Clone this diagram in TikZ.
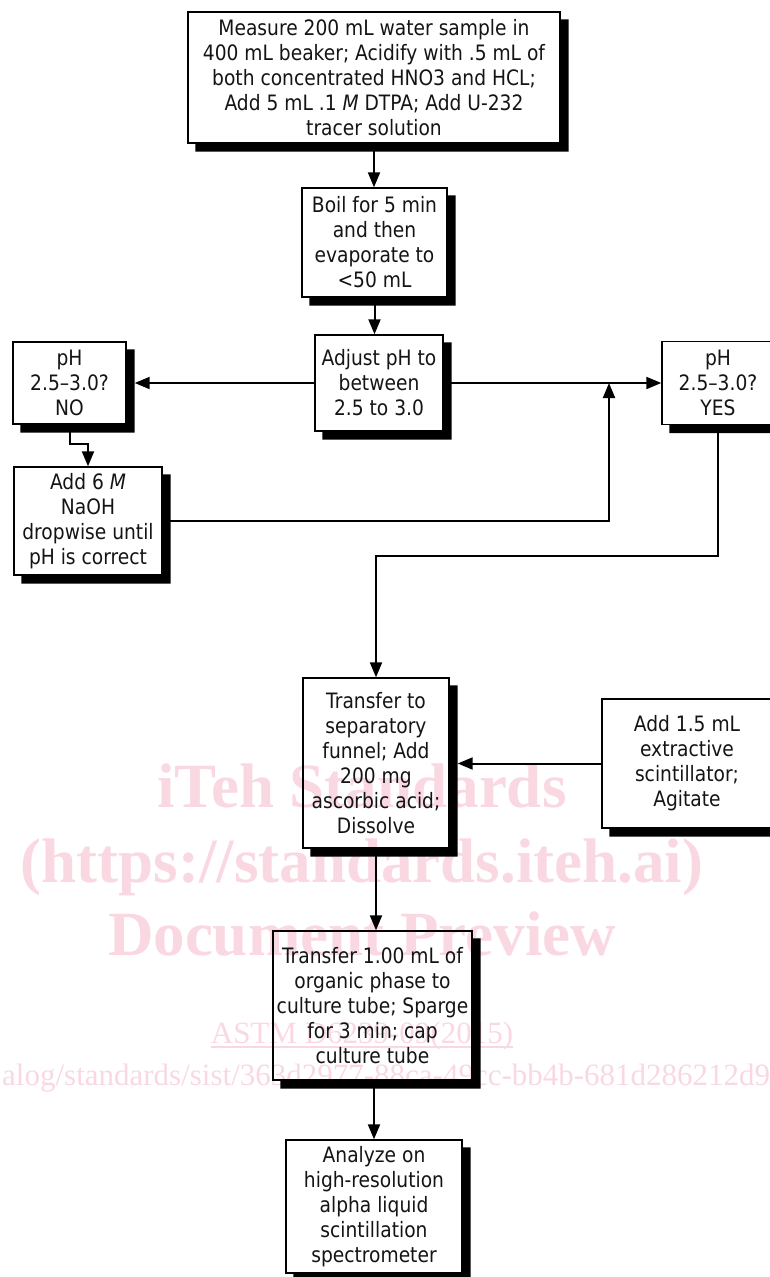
\documentclass[tikz,border=0pt]{standalone}
\usepackage{fontspec}
\setmainfont{DejaVu Sans}[FakeStretch=0.88]
\newfontfamily\wmfont{Liberation Serif}
\usetikzlibrary{arrows.meta,calc}
\definecolor{wmpink}{RGB}{249,216,226}
\begin{document}
\begin{tikzpicture}[x=1pt,y=-1pt,
  box/.style={draw=black, line width=1.4pt, inner sep=0pt, align=center,
    font=\fontsize{21.2}{25}\selectfont, text=black!92},
  conn/.style={line width=2pt, -{Triangle[length=15pt,width=12pt]}},
  wm/.style={text=wmpink, inner sep=0pt},
  wmbig/.style={wm, font=\wmfont\bfseries\fontsize{63}{63}\selectfont, anchor=base},
  wmsmall/.style={wm, font=\wmfont\fontsize{31}{31}\selectfont}]
\useasboundingbox (0,0) rectangle (770,1277);

% watermark (drawn first, under everything)
\node[wmbig] (wm1) at (362,807) {iTeh Standards};
\node[wmbig] (wm2) at (362,882) {(https://standards.iteh.ai)};
\node[wmbig] (wm3) at (362,955) {Document Preview};
\node[wmsmall, anchor=base] (astm) at (362,1043) {ASTM D6239-09(2015)};
\draw[wmpink, line width=1.2pt] ([yshift=-4pt]astm.base west) -- ([yshift=-4pt]astm.base east);
\node[wmsmall, anchor=base west] (cat) at (2,1085) {alog/standards/sist/363d2977-88ca-49cc-bb4b-681d286212d9};

% boxes
\node[box, minimum width=372pt, minimum height=131pt] (top) at (374,77.5)
  {Measure 200 mL water sample in\\400 mL beaker; Acidify with .5 mL of\\both concentrated HNO3 and HCL;\\Add 5 mL .1 \textit{M} DTPA; Add U-232\\tracer solution};
\node[box, minimum width=145pt, minimum height=109pt] (boil) at (374.5,242.5)
  {Boil for 5 min\\and then\\evaporate to\\<50 mL};
\node[box, minimum width=128pt, minimum height=96pt] (adjust) at (379,383)
  {Adjust pH to\\between\\2.5 to 3.0};
\node[box, minimum width=113pt, minimum height=82pt] (no) at (69.5,383)
  {pH\\2.5–3.0?\\NO};
\node[box, minimum width=148pt, minimum height=108pt] (add6) at (88,521)
  {Add 6 \textit{M}\\NaOH\\dropwise until\\pH is correct};
\node[box, minimum width=112pt, minimum height=83pt] (yes) at (718,383)
  {pH\\2.5–3.0?\\YES};
\node[box, minimum width=146pt, minimum height=170pt] (tsep) at (376,763)
  {Transfer to\\separatory\\funnel; Add\\200 mg\\ascorbic acid;\\Dissolve};
\node[box, minimum width=170pt, minimum height=129pt] (add15) at (687,763.5)
  {Add 1.5 mL\\extractive\\scintillator;\\Agitate};
\node[box, minimum width=199pt, minimum height=149pt] (t100) at (372.5,1005.5)
  {Transfer 1.00 mL of\\organic phase to\\culture tube; Sparge\\for 3 min; cap\\culture tube};
\node[box, minimum width=176pt, minimum height=133pt] (an) at (374,1206.5)
  {Analyze on\\high-resolution\\alpha liquid\\scintillation\\spectrometer};

% shadows
\foreach \n in {top,boil,adjust,no,add6,yes,tsep,add15,t100,an}{
  \fill[black] ($(\n.north east)+(0,8)$) -- ($(\n.north east)+(8,8)$)
    -- ($(\n.south east)+(8,8)$) -- ($(\n.south west)+(8,8)$)
    -- ($(\n.south west)+(8,0)$) -- (\n.south east) -- cycle;
}

% connectors
\coordinate (merge) at (609,0);
\draw[conn] (top.south) -- (top.south |- boil.north);
\draw[conn] (boil.south) -- (boil.south |- adjust.north);
\draw[conn] (adjust.west) -- ($(no.east)+(8,0)$);
\draw[conn] (adjust.east) -- (yes.west);
\draw[conn] (no.south) -- ++(0,19) -| (add6.north);
\draw[conn] (add6.east) -| (merge |- adjust.east);
\draw[conn] (yes.south) -- ++(0,131) -| (tsep.north);
\draw[conn] (add15.west) -- ($(tsep.east |- add15.west)+(8,0)$);
\draw[conn] (tsep.south) -- (tsep.south |- t100.north);
\draw[conn] (an.north |- t100.south) -- (an.north);
\end{tikzpicture}
\end{document}
